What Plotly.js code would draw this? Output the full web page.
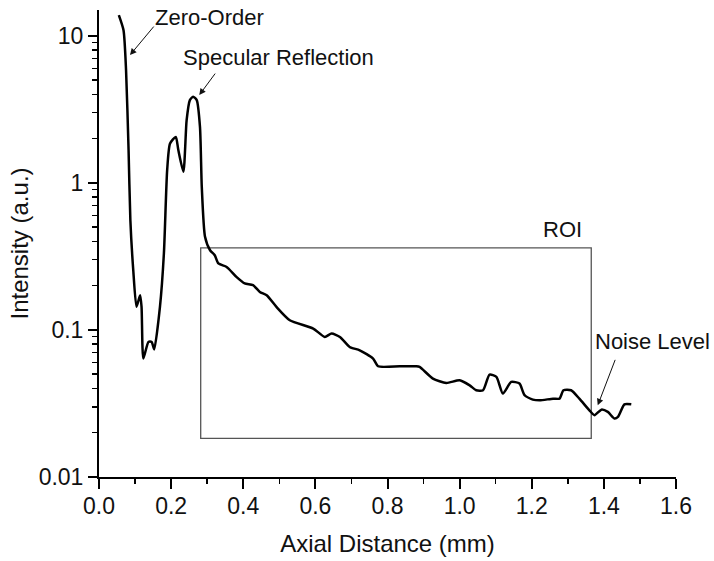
<!DOCTYPE html>
<html>
<head>
<meta charset="utf-8">
<script src="https://cdn.plot.ly/plotly-3.0.1.min.js"></script>
<style>html,body{margin:0;padding:0;background:#fff;}#chart{width:714px;height:561px;}</style>
</head>
<body>
<div id="chart"></div>
<script>
// Axial distance (mm)
const axialDistance = [0.055, 0.068, 0.075, 0.082, 0.087, 0.095, 0.104, 0.114, 0.118, 0.123, 0.137, 0.146, 0.153, 0.169, 0.180, 0.189, 0.197, 0.213, 0.220, 0.234, 0.243, 0.252, 0.261, 0.271, 0.280, 0.285, 0.294, 0.308, 0.321, 0.331, 0.354, 0.381, 0.404, 0.427, 0.446, 0.465, 0.492, 0.529, 0.594, 0.626, 0.645, 0.668, 0.695, 0.723, 0.760, 0.774, 0.834, 0.880, 0.889, 0.926, 0.963, 1.000, 1.028, 1.046, 1.065, 1.083, 1.102, 1.120, 1.143, 1.166, 1.180, 1.203, 1.222, 1.259, 1.277, 1.288, 1.309, 1.332, 1.360, 1.374, 1.393, 1.411, 1.429, 1.439, 1.457, 1.476];
// Intensity (a.u.)
const intensity = [13.8, 10.9, 5.84, 1.67, 0.557, 0.255, 0.1435, 0.172, 0.1435, 0.0639, 0.0829, 0.0829, 0.0736, 0.1435, 0.332, 1.22, 1.85, 2.05, 1.67, 1.19, 2.67, 3.65, 3.85, 3.65, 2.40, 0.939, 0.43, 0.348, 0.322, 0.283, 0.268, 0.2295, 0.207, 0.2015, 0.1813, 0.172, 0.1434, 0.1164, 0.1022, 0.0896, 0.0945, 0.0896, 0.0766, 0.0727, 0.0639, 0.0566, 0.0566, 0.0566, 0.0560, 0.0467, 0.0436, 0.0455, 0.0420, 0.0389, 0.0389, 0.0497, 0.0479, 0.0369, 0.0443, 0.0432, 0.0360, 0.0336, 0.0332, 0.0341, 0.0341, 0.0389, 0.0389, 0.0341, 0.0284, 0.0263, 0.0287, 0.0277, 0.0250, 0.0256, 0.0312, 0.0312];

const yTickVals = [0.01, 0.1, 1, 10];
const yTickText = ['0.01', '0.1', '1', '10'];

// Region of interest box
const roiX = [0.282, 1.365];
const roiY = [0.0183, 0.361];

// Annotation labels: text, x, y (data values)
const labelTexts = ['Zero-Order', 'Specular Reflection', 'ROI', 'Noise Level'];
const labelX = [0.306, 0.497, 1.286, 1.536];
const labelY = [13.35, 7.13, 0.482, 0.0829];
// Arrow heads (data values) and tails (pixel offsets)
const arrowX = [0.086, 0.278, 1.383];
const arrowY = [7.39, 3.95, 0.0307];
const arrowAx = [25, 17, 18];
const arrowAy = [-30, -23, -47];

const FONT = 'Arial, "Liberation Sans", sans-serif';

const annotations = [];
labelTexts.forEach((t, i) => {
  annotations.push({
    text: t, x: labelX[i], y: Math.log10(labelY[i]), xref: 'x', yref: 'y',
    showarrow: false, xanchor: 'center', yanchor: 'middle',
    font: {family: FONT, size: 22, color: '#111'}
  });
});
arrowX.forEach((x, i) => {
  annotations.push({
    text: '', x: x, y: Math.log10(arrowY[i]), xref: 'x', yref: 'y',
    showarrow: true, ax: arrowAx[i], ay: arrowAy[i],
    arrowhead: 2, arrowsize: 1.3, arrowwidth: 1, arrowcolor: '#111', standoff: 0
  });
});

const trace = {
  x: axialDistance, y: intensity, type: 'scatter', mode: 'lines',
  line: {color: '#000', width: 2.5, shape: 'spline', smoothing: 0.6},
  hoverinfo: 'skip'
};

const layout = {
  width: 714, height: 561,
  margin: {l: 99, r: 37.5, t: 10, b: 84.3},
  paper_bgcolor: '#fff', plot_bgcolor: '#fff',
  showlegend: false,
  font: {family: FONT, color: '#111'},
  xaxis: {
    range: [0, 1.6], dtick: 0.2, tick0: 0, tickformat: '.1f',
    showline: true, linecolor: '#000', linewidth: 2,
    ticks: 'outside', ticklen: 10, tickwidth: 2, tickcolor: '#000',
    ticklabelstandoff: -3,
    minor: {dtick: 0.1, ticks: 'outside', ticklen: 5, tickwidth: 1.5, tickcolor: '#000', showgrid: false},
    showgrid: false, zeroline: false,
    tickfont: {family: FONT, size: 23, color: '#111'},
    title: {text: 'Axial Distance (mm)', font: {family: FONT, size: 24, color: '#111'}, standoff: 18}
  },
  yaxis: {
    type: 'log', range: [-2, 1.175],
    tickmode: 'array', tickvals: yTickVals, ticktext: yTickText,
    showline: true, linecolor: '#000', linewidth: 2,
    ticks: 'outside', ticklen: 9, tickwidth: 2, tickcolor: '#000',
    minor: {dtick: 'D1', ticks: 'outside', ticklen: 5, tickwidth: 1.5, tickcolor: '#000', showgrid: false},
    showgrid: false, zeroline: false,
    tickfont: {family: FONT, size: 23, color: '#111'},
    title: {text: 'Intensity (a.u.)', font: {family: FONT, size: 24, color: '#111'}, standoff: 3}
  },
  shapes: [{
    type: 'rect', xref: 'x', yref: 'y',
    x0: roiX[0], x1: roiX[1], y0: roiY[0], y1: roiY[1],
    line: {color: '#555', width: 1.3}, fillcolor: 'rgba(0,0,0,0)', layer: 'below'
  }],
  annotations: annotations
};

Plotly.newPlot('chart', [trace], layout, {displayModeBar: false, staticPlot: true});
</script>
</body>
</html>
